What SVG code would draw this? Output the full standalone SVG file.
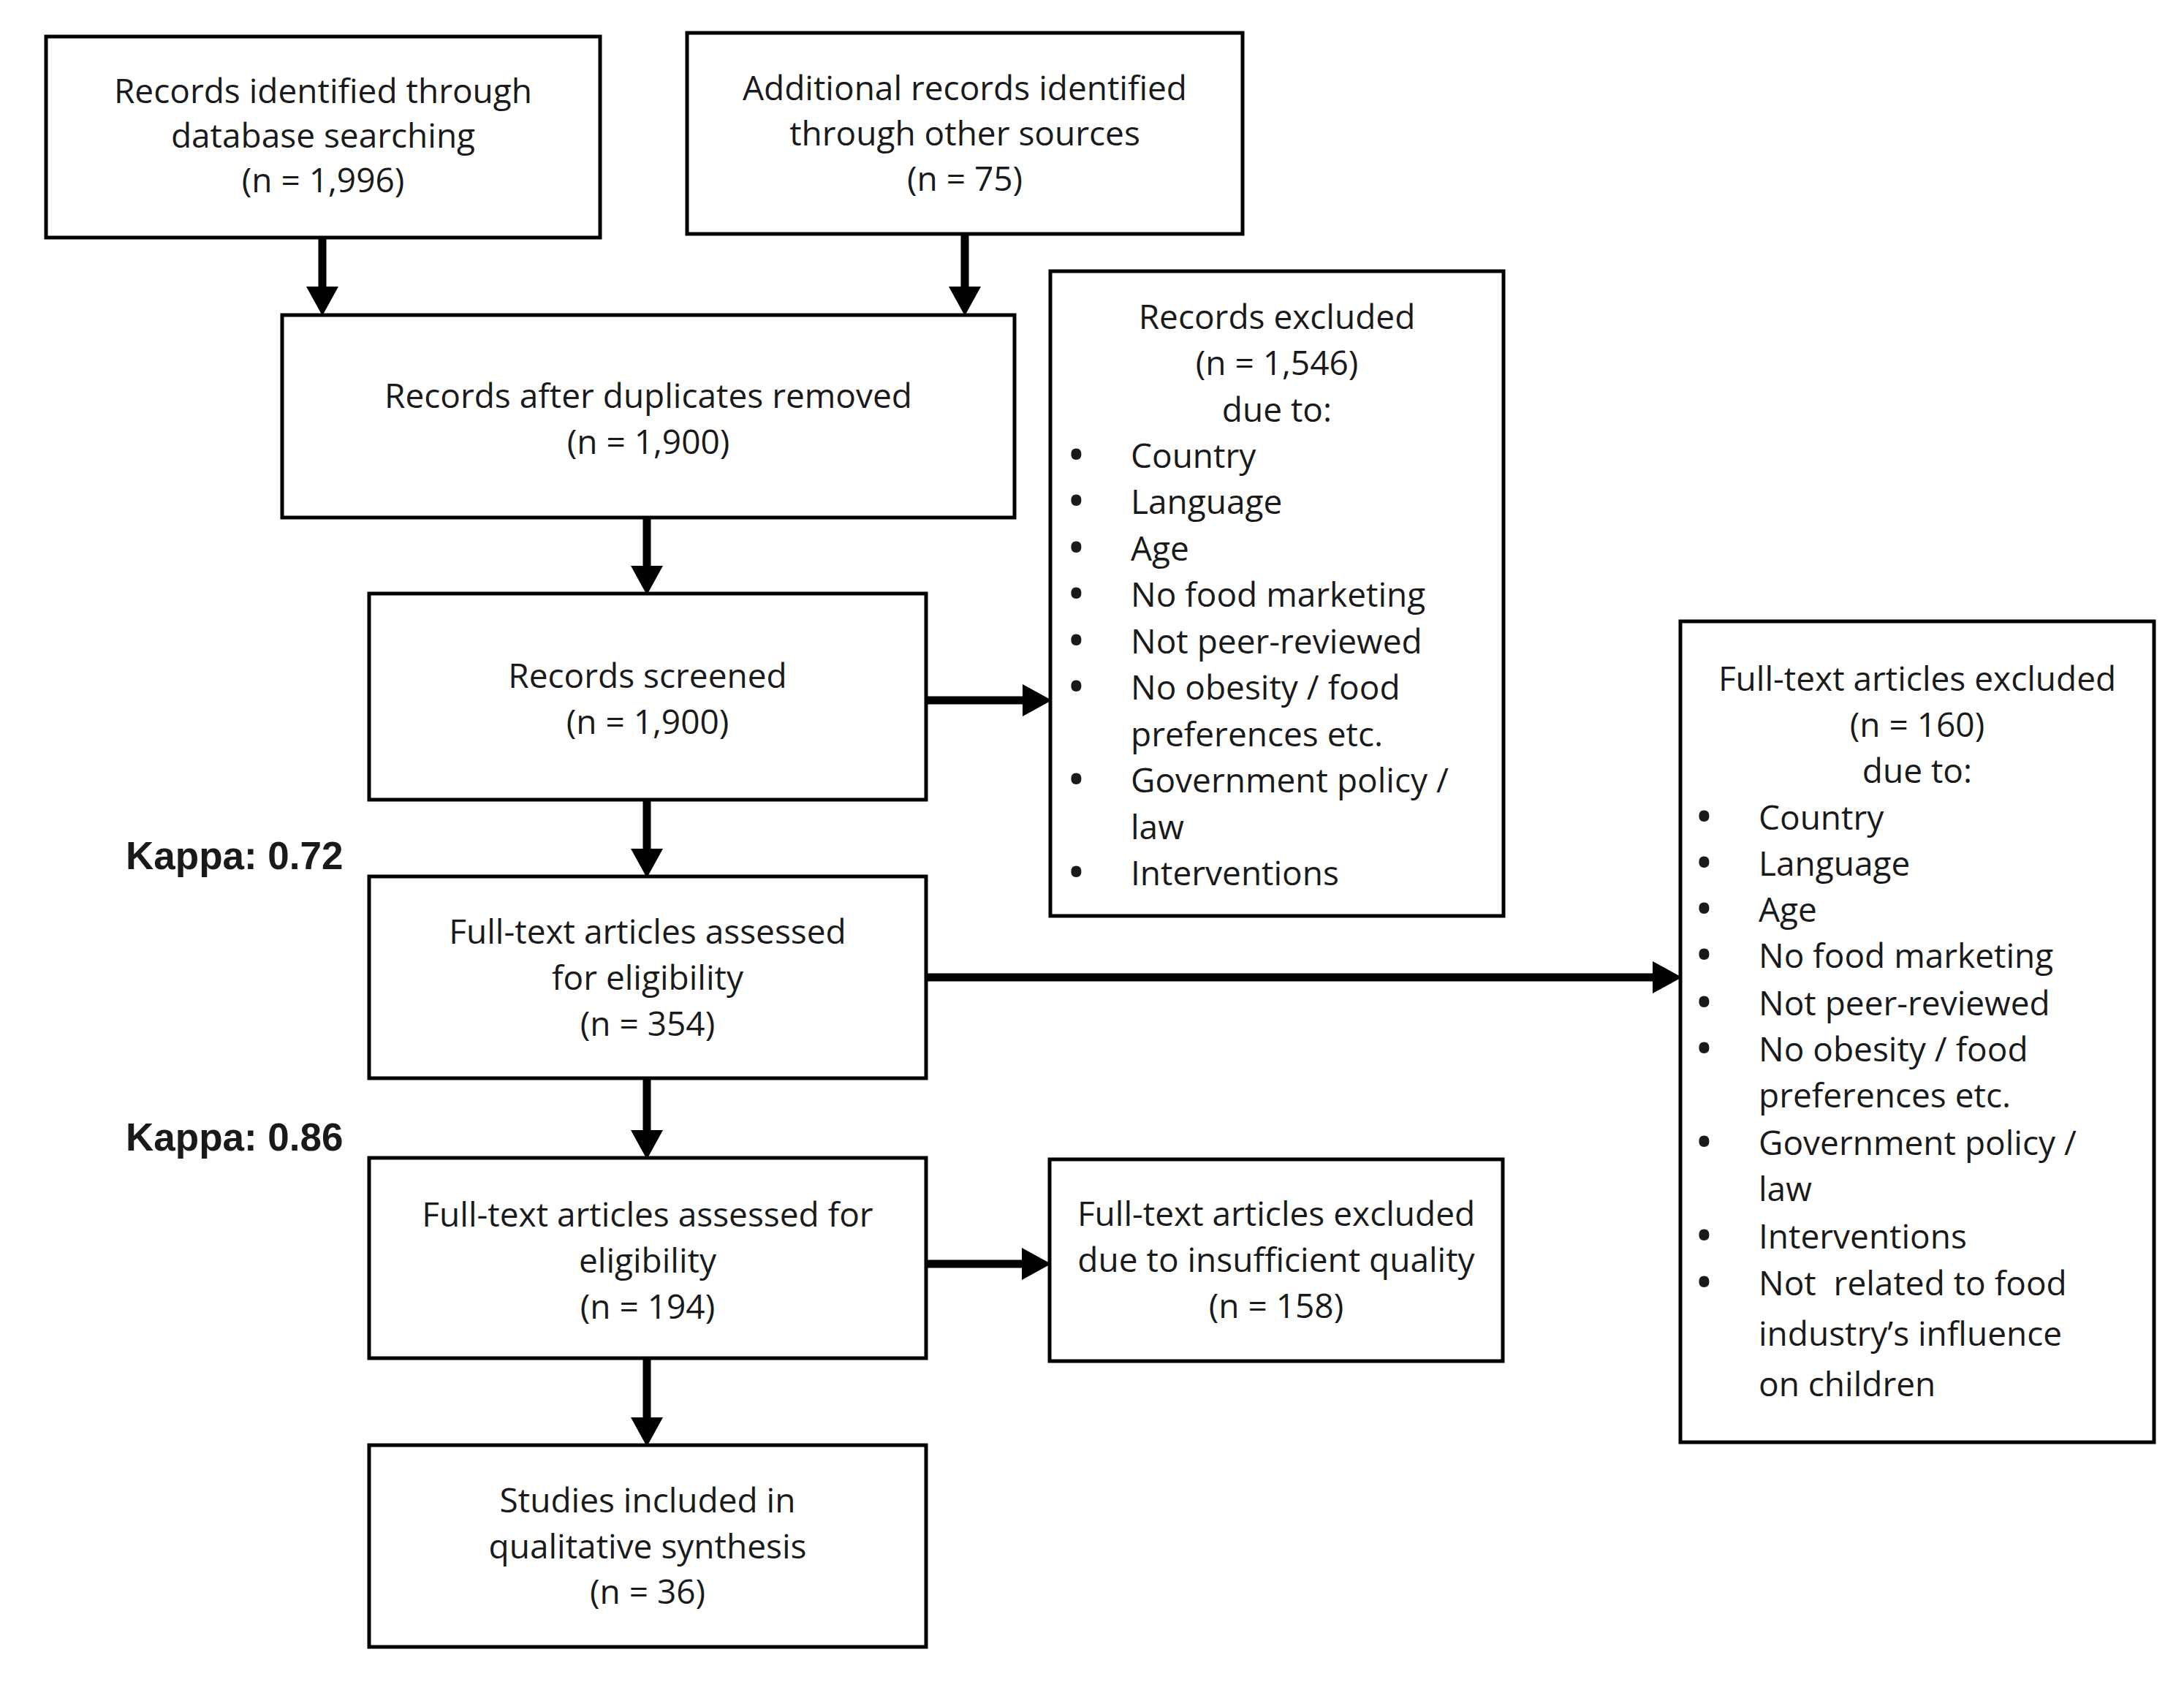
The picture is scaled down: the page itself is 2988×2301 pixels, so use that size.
<svg xmlns="http://www.w3.org/2000/svg" width="2988" height="2301" viewBox="0 0 2988 2301">
<style>
.box{fill:#fff;stroke:#000;stroke-width:5}
.t{font-family:"Open Sans","Noto Sans",sans-serif;font-size:46px;fill:#1a1a1a}
.c{text-anchor:middle}
.b{font-weight:bold;font-size:50px}
.k{font-family:"Liberation Sans",Arial,sans-serif;font-size:53px;font-weight:bold;fill:#1a1a1a}
.ar{stroke:#000;stroke-width:11;fill:none;marker-end:url(#ah)}
</style>
<defs>
<marker id="ah" markerUnits="userSpaceOnUse" markerWidth="40" markerHeight="44" refX="2" refY="22" orient="auto">
<path d="M0,0 L40,22 L0,44 z" fill="#000"/>
</marker>
</defs>
<rect width="2988" height="2301" fill="#fff"/>
<g id="connectors">
<line class="ar" x1="441" y1="327" x2="441" y2="394"/>
<line class="ar" x1="1320" y1="320" x2="1320" y2="394"/>
<line class="ar" x1="885" y1="708" x2="885" y2="776"/>
<line class="ar" x1="885" y1="1094" x2="885" y2="1163"/>
<line class="ar" x1="885" y1="1475" x2="885" y2="1548"/>
<line class="ar" x1="885" y1="1858" x2="885" y2="1941"/>
<line class="ar" x1="1267" y1="958" x2="1401" y2="958"/>
<line class="ar" x1="1267" y1="1337" x2="2263" y2="1337"/>
<line class="ar" x1="1267" y1="1729" x2="1400" y2="1729"/>
</g>
<g id="n1">
<rect class="box" x="63" y="50" width="758" height="275"/>
<text class="t c" x="442" y="141">Records identified through</text>
<text class="t c" x="442" y="202">database searching</text>
<text class="t c" x="442" y="263">(n = 1,996)</text>
</g>
<g id="n2">
<rect class="box" x="940" y="45" width="760" height="275"/>
<text class="t c" x="1320" y="137">Additional records identified</text>
<text class="t c" x="1320" y="199">through other sources</text>
<text class="t c" x="1320" y="261">(n = 75)</text>
</g>
<g id="n3">
<rect class="box" x="386" y="431" width="1002" height="277"/>
<text class="t c" x="887" y="558">Records after duplicates removed</text>
<text class="t c" x="887" y="621">(n = 1,900)</text>
</g>
<g id="n4">
<rect class="box" x="505" y="812" width="762" height="282"/>
<text class="t c" x="886" y="941">Records screened</text>
<text class="t c" x="886" y="1004">(n = 1,900)</text>
</g>
<g id="n5">
<rect class="box" x="505" y="1199" width="762" height="276"/>
<text class="t c" x="886" y="1291">Full-text articles assessed</text>
<text class="t c" x="886" y="1354">for eligibility</text>
<text class="t c" x="886" y="1417">(n = 354)</text>
</g>
<g id="n6">
<rect class="box" x="505" y="1584" width="762" height="274"/>
<text class="t c" x="886" y="1678">Full-text articles assessed for</text>
<text class="t c" x="886" y="1741">eligibility</text>
<text class="t c" x="886" y="1804">(n = 194)</text>
</g>
<g id="n7">
<rect class="box" x="505" y="1977" width="762" height="276"/>
<text class="t c" x="886" y="2069">Studies included in</text>
<text class="t c" x="886" y="2132">qualitative synthesis</text>
<text class="t c" x="886" y="2194">(n = 36)</text>
</g>
<g id="n8">
<rect class="box" x="1437" y="371" width="620" height="882"/>
<text class="t c" x="1747" y="450">Records excluded</text>
<text class="t c" x="1747" y="513">(n = 1,546)</text>
<text class="t c" x="1747" y="577">due to:</text>
<g class="t">
<text class="b" x="1463" y="640">•</text><text x="1547" y="640">Country</text>
<text class="b" x="1463" y="703">•</text><text x="1547" y="703">Language</text>
<text class="b" x="1463" y="767">•</text><text x="1547" y="767">Age</text>
<text class="b" x="1463" y="830">•</text><text x="1547" y="830">No food marketing</text>
<text class="b" x="1463" y="894">•</text><text x="1547" y="894">Not peer-reviewed</text>
<text class="b" x="1463" y="957">•</text><text x="1547" y="957">No obesity / food</text>
<text x="1547" y="1021">preferences etc.</text>
<text class="b" x="1463" y="1084">•</text><text x="1547" y="1084">Government policy /</text>
<text x="1547" y="1148">law</text>
<text class="b" x="1463" y="1211">•</text><text x="1547" y="1211">Interventions</text>
</g>
</g>
<g id="n9">
<rect class="box" x="2299" y="850" width="648" height="1123"/>
<text class="t c" x="2623" y="945">Full-text articles excluded</text>
<text class="t c" x="2623" y="1008">(n = 160)</text>
<text class="t c" x="2623" y="1071">due to:</text>
<g class="t">
<text class="b" x="2322" y="1135">•</text><text x="2406" y="1135">Country</text>
<text class="b" x="2322" y="1198">•</text><text x="2406" y="1198">Language</text>
<text class="b" x="2322" y="1261">•</text><text x="2406" y="1261">Age</text>
<text class="b" x="2322" y="1324">•</text><text x="2406" y="1324">No food marketing</text>
<text class="b" x="2322" y="1389">•</text><text x="2406" y="1389">Not peer-reviewed</text>
<text class="b" x="2322" y="1452">•</text><text x="2406" y="1452">No obesity / food</text>
<text x="2406" y="1515">preferences etc.</text>
<text class="b" x="2322" y="1580">•</text><text x="2406" y="1580">Government policy /</text>
<text x="2406" y="1643">law</text>
<text class="b" x="2322" y="1708">•</text><text x="2406" y="1708">Interventions</text>
<text class="b" x="2322" y="1772">•</text><text x="2406" y="1772" xml:space="preserve">Not  related to food</text>
<text x="2406" y="1841">industry’s influence</text>
<text x="2406" y="1910">on children</text>
</g>
</g>
<g id="n10">
<rect class="box" x="1436" y="1586" width="620" height="276"/>
<text class="t c" x="1746" y="1677">Full-text articles excluded</text>
<text class="t c" x="1746" y="1740">due to insufficient quality</text>
<text class="t c" x="1746" y="1803">(n = 158)</text>
</g>
<g id="kappa1"><text class="k" x="172" y="1189">Kappa: 0.72</text></g>
<g id="kappa2"><text class="k" x="172" y="1574">Kappa: 0.86</text></g>
</svg>
